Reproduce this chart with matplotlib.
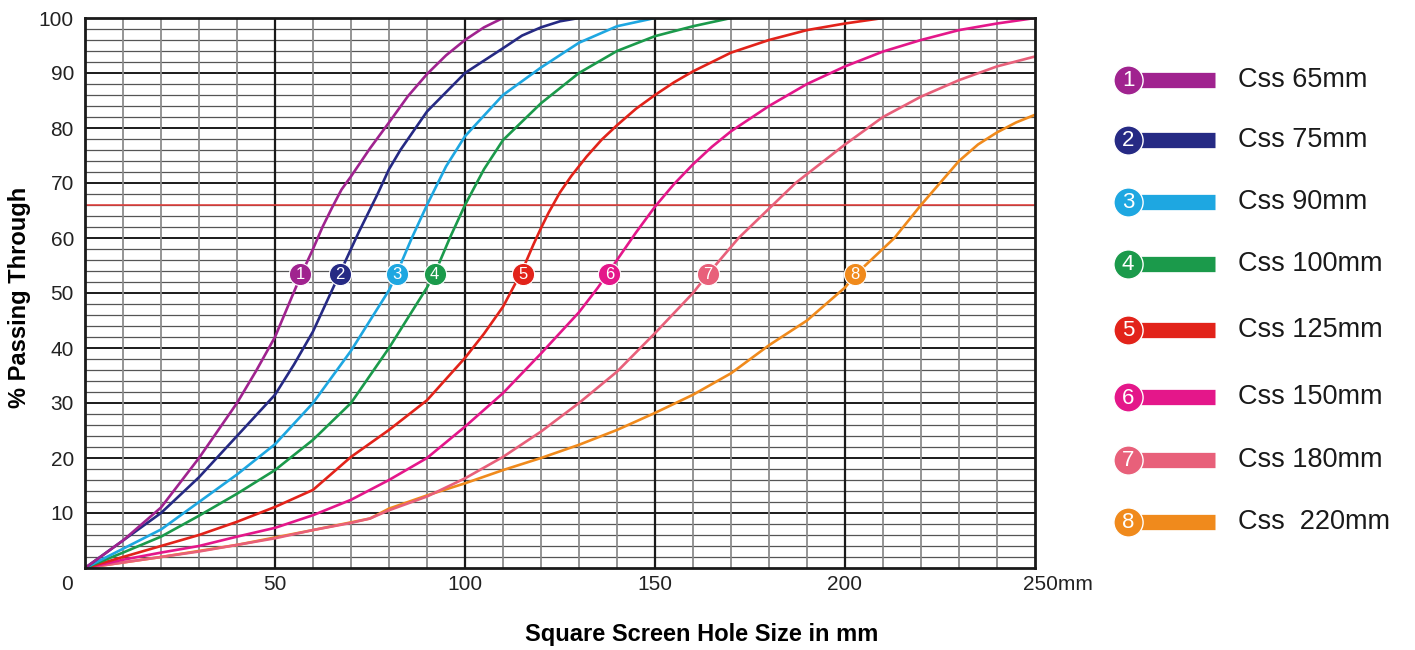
import numpy as np
import matplotlib.pyplot as plt

plt.rcParams["font.family"] = ["Liberation Sans", "DejaVu Sans"]

# ------------------------------------------------------------------ #
#  Data                                            #
# ------------------------------------------------------------------ #

labels = ["Css 65mm", "Css 75mm", "Css 90mm", "Css 100mm",
          "Css 125mm", "Css 150mm", "Css 180mm", "Css  220mm"]
colors = ["#A0238F", "#262A84", "#1EA7E1", "#1B9A4B",
          "#E2231A", "#E4178A", "#E8607A", "#F08A1C"]

x1 = [0, 10, 20, 30, 40, 45, 50, 57, 60, 62.5, 65, 67.5, 70, 75, 80, 85, 90, 95, 100, 105, 110]
y1 = [0, 5, 11, 20, 30, 35.8, 42, 53.5, 58, 62, 65.5, 68.8, 71.2, 76.3, 81, 85.8, 89.8, 93.2, 96, 98.3, 100]

x2 = [0, 10, 20, 30, 40, 50, 55, 60, 67, 72, 77, 80, 83, 90, 100, 110, 115, 120, 125, 130]
y2 = [0, 5, 10, 16.5, 24, 31.5, 37, 43, 53.5, 61, 68, 72.5, 76, 83, 90, 94.5, 96.8, 98.3, 99.4, 100]

x3 = [0, 10, 20, 30, 40, 50, 60, 70, 80, 82, 86, 90, 95, 100, 110, 120, 130, 140, 150]
y3 = [0, 3.5, 7, 12, 17, 22.5, 30, 39.5, 50.5, 53.5, 60, 66, 73, 78.5, 86, 91, 95.5, 98.5, 100]

x4 = [0, 10, 20, 30, 40, 50, 60, 70, 80, 90, 92, 96, 100, 105, 110, 120, 130, 140, 150, 160, 170]
y4 = [0, 2.8, 5.7, 9.5, 13.5, 17.8, 23.3, 30, 40, 51, 53.5, 60, 66, 72.5, 77.8, 84.5, 90, 94, 96.7, 98.5, 100]

x5 = [0, 10, 20, 30, 40, 50, 60, 63, 70, 80, 90, 100, 105, 110, 115, 118, 120, 122, 125, 128,
      132, 136, 140, 145, 150, 155, 160, 170, 180, 190, 200, 210]
y5 = [0, 2, 4, 6, 8.4, 11.1, 14.2, 16, 20.2, 25.1, 30.5, 38.2, 42.6, 47.5, 54, 58.8, 61.8, 64.6, 68.3, 71.3,
      74.8, 77.9, 80.5, 83.5, 86, 88.3, 90.3, 93.7, 96, 97.8, 99, 100]

x6 = [0, 10, 20, 30, 40, 50, 60, 70, 80, 90, 100, 110, 120, 130, 135, 138, 140, 145, 150, 155,
      160, 165, 170, 180, 190, 200, 210, 220, 230, 240, 250]
y6 = [0, 1.5, 2.8, 4, 5.7, 7.3, 9.6, 12.4, 16, 20, 25.7, 31.8, 39, 46.5, 51, 54, 56, 61, 65.7, 69.8,
      73.4, 76.6, 79.4, 84, 88, 91.2, 93.9, 96, 97.8, 99, 100]

x7 = [0, 10, 20, 30, 40, 50, 60, 70, 75, 80, 90, 100, 110, 120, 130, 140, 150, 160, 164, 172,
      181, 187, 200, 210, 220, 230, 240, 250]
y7 = [0, 1, 2, 3, 4.2, 5.4, 6.9, 8.2, 9, 10.5, 13, 16.3, 20.2, 24.8, 30, 35.7, 42.7, 50, 53.5, 60,
      66, 70, 77, 82, 85.7, 88.7, 91.2, 93]

x8 = [0, 20, 40, 60, 75, 80, 90, 100, 110, 120, 130, 140, 150, 160, 170, 180, 190, 200, 203,
      213, 220, 225, 230, 235, 240, 245, 250]
y8 = [0, 2, 4.2, 6.9, 9, 10.8, 13.2, 15.4, 17.8, 20, 22.4, 25.1, 28.2, 31.5, 35.4, 40.5, 45, 51, 53.5,
      60, 66, 70, 74, 77, 79.2, 81, 82.4]

curves_x = [x1, x2, x3, x4, x5, x6, x7, x8]
curves_y = [y1, y2, y3, y4, y5, y6, y7, y8]

# number badges sitting on each curve
badge_x = [56.6, 67, 82, 92, 115.3, 138, 164, 202.6]
badge_y = 53.5

ref_line = 66

x_ticks = [50, 100, 150, 200]
y_ticks = [10, 20, 30, 40, 50, 60, 70, 80, 90, 100]

# ------------------------------------------------------------------ #
#  Figure                                                             #
# ------------------------------------------------------------------ #

fig = plt.figure(figsize=(14.15, 6.5), dpi=100)
ax = fig.add_axes([85 / 1415, 82 / 650, 950 / 1415, 550 / 650])

ax.set_xlim(0, 250)
ax.set_ylim(0, 100)

# graph-paper grid
for v in np.arange(2, 100, 2):
    if v % 10 == 0:
        ax.axhline(v, color="#1a1a1a", lw=1.4, zorder=1)
    else:
        ax.axhline(v, color="#555555", lw=0.9, zorder=1)
for v in np.arange(10, 250, 10):
    if v % 50 == 0:
        ax.axvline(v, color="#1a1a1a", lw=1.6, zorder=1)
    else:
        ax.axvline(v, color="#8c8c8c", lw=1.3, zorder=1)

ax.axhline(ref_line, color="#E53935", lw=1.1, zorder=2)

# draw widest curves first so the narrow ones sit on top near the origin
for i in reversed(range(8)):
    ax.plot(curves_x[i], curves_y[i], color=colors[i], lw=1.9, zorder=3,
            solid_capstyle="round", solid_joinstyle="round")

for i in range(8):
    ax.plot(badge_x[i], badge_y, "o", ms=16, color=colors[i],
            mec="white", mew=0.8, zorder=5)
    ax.text(badge_x[i], badge_y - 0.2, str(i + 1), color="white", fontsize=12,
            ha="center", va="center", zorder=6)

for s in ax.spines.values():
    s.set_linewidth(2)
    s.set_color("#1a1a1a")
    s.set_zorder(4)

ax.set_xticks(x_ticks)
ax.set_yticks(y_ticks)
ax.tick_params(length=0, labelsize=15, colors="#222222")
ax.tick_params(axis="x", pad=5)
ax.tick_params(axis="y", pad=8)
ax.annotate("0", xy=(0, 0), xycoords=("data", "axes fraction"),
            xytext=(-13, -12), textcoords="offset points",
            ha="center", va="center", fontsize=15, color="#222222")
ax.annotate("250mm", xy=(250, 0), xycoords=("data", "axes fraction"),
            xytext=(-9, -12), textcoords="offset points",
            ha="left", va="center", fontsize=15, color="#222222")

fig.text(20 / 1415, 1 - 297 / 650, "% Passing Through", rotation=90,
         ha="center", va="center", fontsize=17, fontweight="bold")
fig.text(702 / 1415, 1 - 635 / 650, "Square Screen Hole Size in mm",
         ha="center", va="center", fontsize=17, fontweight="bold")

# ------------------------------------------------------------------ #
#  Legend (badge + bar + label)                                       #
# ------------------------------------------------------------------ #

lax = fig.add_axes([0, 0, 1, 1])
lax.set_xlim(0, 1415)
lax.set_ylim(650, 0)
lax.axis("off")

row_y = [80, 140, 202, 264, 330, 397, 460, 522]
for i in range(8):
    lax.plot([1128, 1215], [row_y[i], row_y[i]], color=colors[i], lw=11,
             solid_capstyle="butt")
    lax.plot(1128, row_y[i], "o", ms=21, color=colors[i], mec="white", mew=1)
    lax.text(1128, row_y[i] + 1, str(i + 1), color="white", fontsize=16,
             ha="center", va="center")
    lax.text(1238, row_y[i], labels[i], fontsize=19.5, ha="left", va="center",
             color="#1a1a1a")

fig.savefig("out.png", dpi=100)
